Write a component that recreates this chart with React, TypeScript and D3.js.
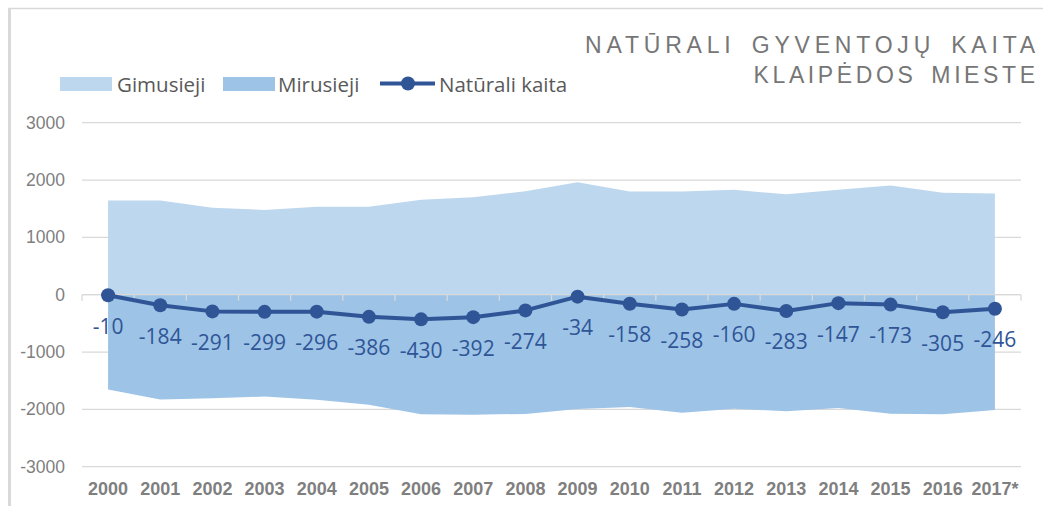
// @ts-nocheck
import React from 'react'
import * as d3 from 'd3'

const years = ['2000', '2001', '2002', '2003', '2004', '2005', '2006', '2007', '2008',
    '2009', '2010', '2011', '2012', '2013', '2014', '2015', '2016', '2017*']
const births = [1645, 1645, 1515, 1478, 1535, 1535, 1655, 1700, 1805,
    1960, 1800, 1800, 1830, 1750, 1830, 1905, 1780, 1765]
const deaths = [-1655, -1829, -1806, -1777, -1831, -1921, -2085, -2092, -2079,
    -1994, -1958, -2058, -1990, -2033, -1977, -2078, -2085, -2011]
const natural = [-10, -184, -291, -299, -296, -386, -430, -392, -274,
    -34, -158, -258, -160, -283, -147, -173, -305, -246]
const yTicks = [3000, 2000, 1000, 0, -1000, -2000, -3000]

const width = 1043, height = 506
const birthColor = '#BDD7EE'
const deathColor = '#9DC3E6'
const lineColor = '#2F5597'
const gridColor = '#D9D9D9'
const textGray = '#7F7F7F'

export default function App() {
    // Band scale for the categories, points sit in the middle of each band
    const x = d3.scaleBand().domain(years).range([82, 1021]).padding(0)
    const cx = (y: string) => x(y) + x.bandwidth() / 2

    const y = d3.scaleLinear().domain([-3000, 3000]).range([466.7, 122.7])

    const area = d3.area<number>()
        .x((_, i) => cx(years[i]))
        .y0(y(0))
        .y1(d => y(d))
    const line = d3.line<number>()
        .x((_, i) => cx(years[i]))
        .y(d => y(d))

    const boundaries = years.map(c => x(c)).concat([x.range()[1]])

    return <div style={{ position: 'absolute', left: 0, top: 0 }}>
        <svg width={width} height={height} style={{ display: 'block' }}>
            <rect width={width} height={height} fill="#fff" />
            {/* chart frame */}
            <line x1={9.5} x2={9.5} y1={8} y2={height} stroke={gridColor} strokeWidth={3} />
            <line x1={8} x2={width} y1={8.5} y2={8.5} stroke={gridColor} strokeWidth={1.5} />

            {/* title */}
            <g fill="#767676" fontFamily="'Liberation Sans', Arial, sans-serif" fontSize={23}
                textAnchor="end" wordSpacing={5}>
                <text x={1040} y={52.5} letterSpacing={4.8}>NATŪRALI GYVENTOJŲ KAITA</text>
                <text x={1038.6} y={82.5} letterSpacing={3.6}>KLAIPĖDOS MIESTE</text>
            </g>

            {/* legend */}
            <g fontFamily="'Open Sans', sans-serif" fontSize={20.5} fill="#595959">
                <rect x={60} y={77} width={52} height={14} fill={birthColor} />
                <text x={117} y={84} dominantBaseline="central">Gimusieji</text>
                <rect x={223} y={77} width={52} height={14} fill={deathColor} />
                <text x={278} y={84} dominantBaseline="central">Mirusieji</text>
                <line x1={380} x2={435} y1={83.5} y2={83.5} stroke={lineColor} strokeWidth={4} />
                <circle cx={408} cy={83.5} r={7} fill={lineColor} />
                <text x={439} y={84} dominantBaseline="central">Natūrali kaita</text>
            </g>

            {/* gridlines */}
            {yTicks.map(t => <line key={t} x1={82} x2={1021} y1={y(t)} y2={y(t)}
                stroke={gridColor} strokeWidth={1.3} />)}

            {/* y labels */}
            <g fontFamily="'Liberation Sans', Arial, sans-serif" fontSize={17.5} fill={textGray} textAnchor="end">
                {yTicks.map(t => <text key={t} x={65} y={y(t)} dominantBaseline="central">{t}</text>)}
            </g>

            {/* areas */}
            <path d={area(births)} fill={birthColor} />
            <path d={area(deaths)} fill={deathColor} />

            {/* category axis */}
            <line x1={82} x2={1021} y1={y(0)} y2={y(0)} stroke={gridColor} strokeWidth={1.3} />
            {boundaries.map((b, i) => <line key={i} x1={b} x2={b} y1={y(0)} y2={y(0) + 6}
                stroke={gridColor} strokeWidth={1.3} />)}
            <g fontFamily="'Liberation Sans', Arial, sans-serif" fontSize={18} fontWeight="bold"
                fill={textGray} textAnchor="middle">
                {years.map(c => <text key={c} x={cx(c)} y={495}>{c}</text>)}
            </g>

            {/* natural change line */}
            <path d={line(natural)} fill="none" stroke={lineColor} strokeWidth={4} strokeLinejoin="round" />
            {natural.map((v, i) => <circle key={i} cx={cx(years[i])} cy={y(v)} r={7} fill={lineColor} />)}
            <g fontFamily="'Open Sans', sans-serif" fontSize={21} fill={lineColor} textAnchor="middle">
                {natural.map((v, i) => <text key={i} x={cx(years[i])} y={y(v) + 30.5}
                    dominantBaseline="central">{v}</text>)}
            </g>
        </svg>
    </div>
}
